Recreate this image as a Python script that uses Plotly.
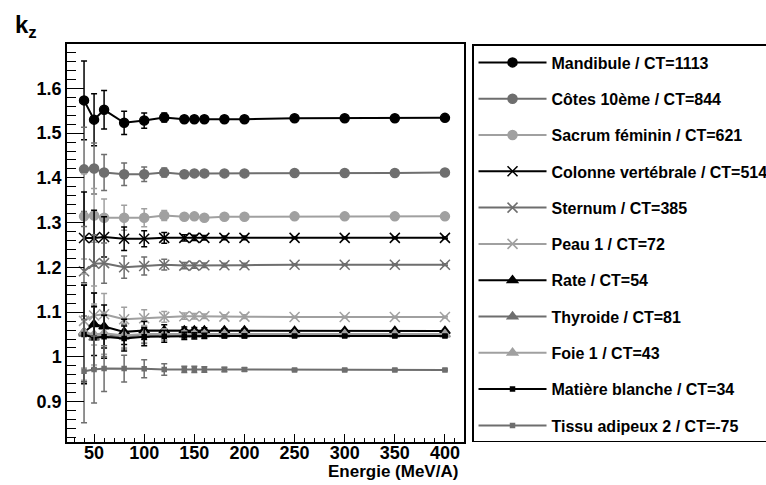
import plotly.graph_objects as go

energies = [40, 50, 60, 80, 100, 120, 140, 150, 160, 180, 200, 250, 300, 350, 400]

names = [
    "Mandibule / CT=1113",
    "Côtes 10ème / CT=844",
    "Sacrum féminin / CT=621",
    "Colonne vertébrale / CT=514",
    "Sternum / CT=385",
    "Peau 1 / CT=72",
    "Rate / CT=54",
    "Thyroide / CT=81",
    "Foie 1 / CT=43",
    "Matière blanche / CT=34",
    "Tissu adipeux 2 / CT=-75",
]

mandibule = [1.573, 1.530, 1.552, 1.523, 1.528, 1.535, 1.531, 1.531, 1.531, 1.531, 1.531, 1.533, 1.533, 1.533, 1.534]
cotes = [1.419, 1.421, 1.412, 1.408, 1.408, 1.412, 1.408, 1.410, 1.410, 1.410, 1.410, 1.411, 1.411, 1.411, 1.412]
sacrum = [1.314, 1.316, 1.311, 1.311, 1.311, 1.316, 1.313, 1.314, 1.311, 1.313, 1.313, 1.314, 1.314, 1.314, 1.314]
colonne = [1.2655, 1.2655, 1.268, 1.264, 1.264, 1.266, 1.266, 1.266, 1.266, 1.266, 1.266, 1.266, 1.266, 1.266, 1.266]
sternum = [1.1915, 1.208, 1.2095, 1.2005, 1.203, 1.206, 1.204, 1.204, 1.205, 1.205, 1.205, 1.206, 1.206, 1.206, 1.206]
peau = [1.0805, 1.0925, 1.0955, 1.084, 1.0865, 1.0895, 1.091, 1.091, 1.091, 1.090, 1.090, 1.089, 1.089, 1.089, 1.089]
rate = [1.055, 1.073, 1.068, 1.056, 1.059, 1.059, 1.059, 1.059, 1.059, 1.059, 1.059, 1.058, 1.058, 1.058, 1.058]
thyroide = [1.052, 1.043, 1.048, 1.045, 1.049, 1.050, 1.050, 1.050, 1.050, 1.050, 1.050, 1.050, 1.050, 1.050, 1.050]
foie = [1.056, 1.050, 1.053, 1.048, 1.051, 1.051, 1.051, 1.051, 1.051, 1.051, 1.051, 1.051, 1.051, 1.051, 1.051]
matiere = [1.050, 1.043, 1.045, 1.041, 1.045, 1.046, 1.047, 1.047, 1.047, 1.047, 1.047, 1.047, 1.047, 1.047, 1.047]
tissu = [0.968, 0.972, 0.974, 0.974, 0.9735, 0.972, 0.972, 0.972, 0.972, 0.972, 0.972, 0.971, 0.971, 0.971, 0.971]

err_mandibule = [0.088, 0.058, 0.043, 0.026, 0.017, 0.010, 0.005, 0.004, 0.004, 0.003, 0.003, 0.002, 0.002, 0.002, 0.002]
err_cotes = [0.094, 0.057, 0.040, 0.025, 0.016, 0.010, 0.006, 0.005, 0.004, 0.003, 0.003, 0.002, 0.002, 0.002, 0.002]
err_sacrum = [0.095, 0.060, 0.042, 0.028, 0.020, 0.011, 0.007, 0.006, 0.005, 0.004, 0.003, 0.002, 0.002, 0.002, 0.002]
err_colonne = [0.103, 0.062, 0.045, 0.026, 0.018, 0.012, 0.007, 0.006, 0.005, 0.004, 0.004, 0.002, 0.002, 0.002, 0.002]
err_sternum = [0.100, 0.065, 0.045, 0.025, 0.020, 0.012, 0.007, 0.006, 0.005, 0.004, 0.004, 0.002, 0.002, 0.002, 0.002]
err_peau = [0.105, 0.066, 0.046, 0.027, 0.019, 0.012, 0.007, 0.006, 0.005, 0.004, 0.004, 0.002, 0.002, 0.002, 0.002]
err_rate = [0.110, 0.070, 0.048, 0.028, 0.020, 0.013, 0.008, 0.007, 0.006, 0.004, 0.004, 0.002, 0.002, 0.002, 0.002]
err_thyroide = [0.108, 0.068, 0.047, 0.027, 0.019, 0.012, 0.007, 0.006, 0.006, 0.004, 0.004, 0.002, 0.002, 0.002, 0.002]
err_foie = [0.108, 0.068, 0.047, 0.027, 0.019, 0.012, 0.007, 0.006, 0.006, 0.004, 0.004, 0.002, 0.002, 0.002, 0.002]
err_matiere = [0.110, 0.070, 0.048, 0.028, 0.020, 0.013, 0.008, 0.007, 0.006, 0.004, 0.004, 0.002, 0.002, 0.002, 0.002]
err_tissu = [0.115, 0.075, 0.051, 0.030, 0.020, 0.013, 0.007, 0.007, 0.006, 0.005, 0.004, 0.002, 0.002, 0.002, 0.002]

BLACK = "#000000"
DARK = "#6e6e6e"
LIGHT = "#a0a0a0"

series = [
    (mandibule, err_mandibule, BLACK, "circle", 9),
    (cotes, err_cotes, DARK, "circle", 9),
    (sacrum, err_sacrum, LIGHT, "circle", 9),
    (colonne, err_colonne, BLACK, "x-thin-open", 10),
    (sternum, err_sternum, DARK, "x-thin-open", 10),
    (peau, err_peau, LIGHT, "x-thin-open", 10),
    (rate, err_rate, BLACK, "triangle-up", 9),
    (thyroide, err_thyroide, DARK, "triangle-up", 9),
    (foie, err_foie, LIGHT, "triangle-up", 9),
    (matiere, err_matiere, BLACK, "square", 4),
    (tissu, err_tissu, DARK, "square", 4),
]

FONT = "Liberation Sans, Arial, Helvetica, sans-serif"

fig = go.Figure()
for i, (name, (vals, errs, col, sym, size)) in enumerate(zip(names, series)):
    fig.add_trace(go.Scatter(
        x=energies, y=vals, name=name, mode="lines+markers",
        legendgroup=f"g{i}",
        line=dict(color=col, width=2),
        marker=dict(color=col, symbol=sym, size=size,
                    line=dict(color=col, width=1.5)),
        error_y=dict(type="data", array=errs, visible=True,
                     color=col, thickness=1.5, width=3),
    ))

fig.update_layout(
    width=766, height=485,
    margin=dict(l=67, r=302, t=44, b=43, autoexpand=False),
    plot_bgcolor="white", paper_bgcolor="white",
    font=dict(family=FONT, size=16, color="black"),
    showlegend=True,
    legend=dict(
        x=1.0202, y=1.0, xanchor="left", yanchor="top",
        bgcolor="white", bordercolor="black", borderwidth=1.5,
        font=dict(family=FONT, size=16, color="black", weight="bold"),
        tracegroupgap=12.5, itemwidth=68,
    ),
    xaxis=dict(
        range=[23, 419], tick0=0, dtick=50,
        showline=True, linecolor="black", linewidth=1.5, mirror=True,
        ticks="inside", ticklen=8, tickwidth=1, tickcolor="black",
        minor=dict(dtick=10, ticks="inside", ticklen=4, tickcolor="black"),
        showgrid=False, zeroline=False, ticklabelstandoff=-6,
        tickfont=dict(family=FONT, size=18, color="black", weight="bold"),
    ),
    yaxis=dict(
        range=[0.81, 1.699], tick0=0, dtick=0.1,
        showline=True, linecolor="black", linewidth=1.5, mirror=True,
        ticks="inside", ticklen=17, tickwidth=1, tickcolor="black",
        minor=dict(dtick=0.02, ticks="inside", ticklen=9, tickcolor="black"),
        showgrid=False, zeroline=False,
        tickfont=dict(family=FONT, size=18, color="black", weight="bold"),
    ),
    annotations=[
        dict(text="<b>k<sub>z</sub></b>", xref="paper", yref="paper",
             x=-0.137, y=1.045, xanchor="left", yanchor="middle",
             showarrow=False, font=dict(family=FONT, size=24, color="black")),
        dict(text="<b>Energie (MeV/A)</b>", xref="paper", yref="paper",
             x=0.99, y=-0.075, xanchor="right", yanchor="middle",
             showarrow=False, font=dict(family=FONT, size=17, color="black")),
    ],
)

fig.write_html("out.html")
